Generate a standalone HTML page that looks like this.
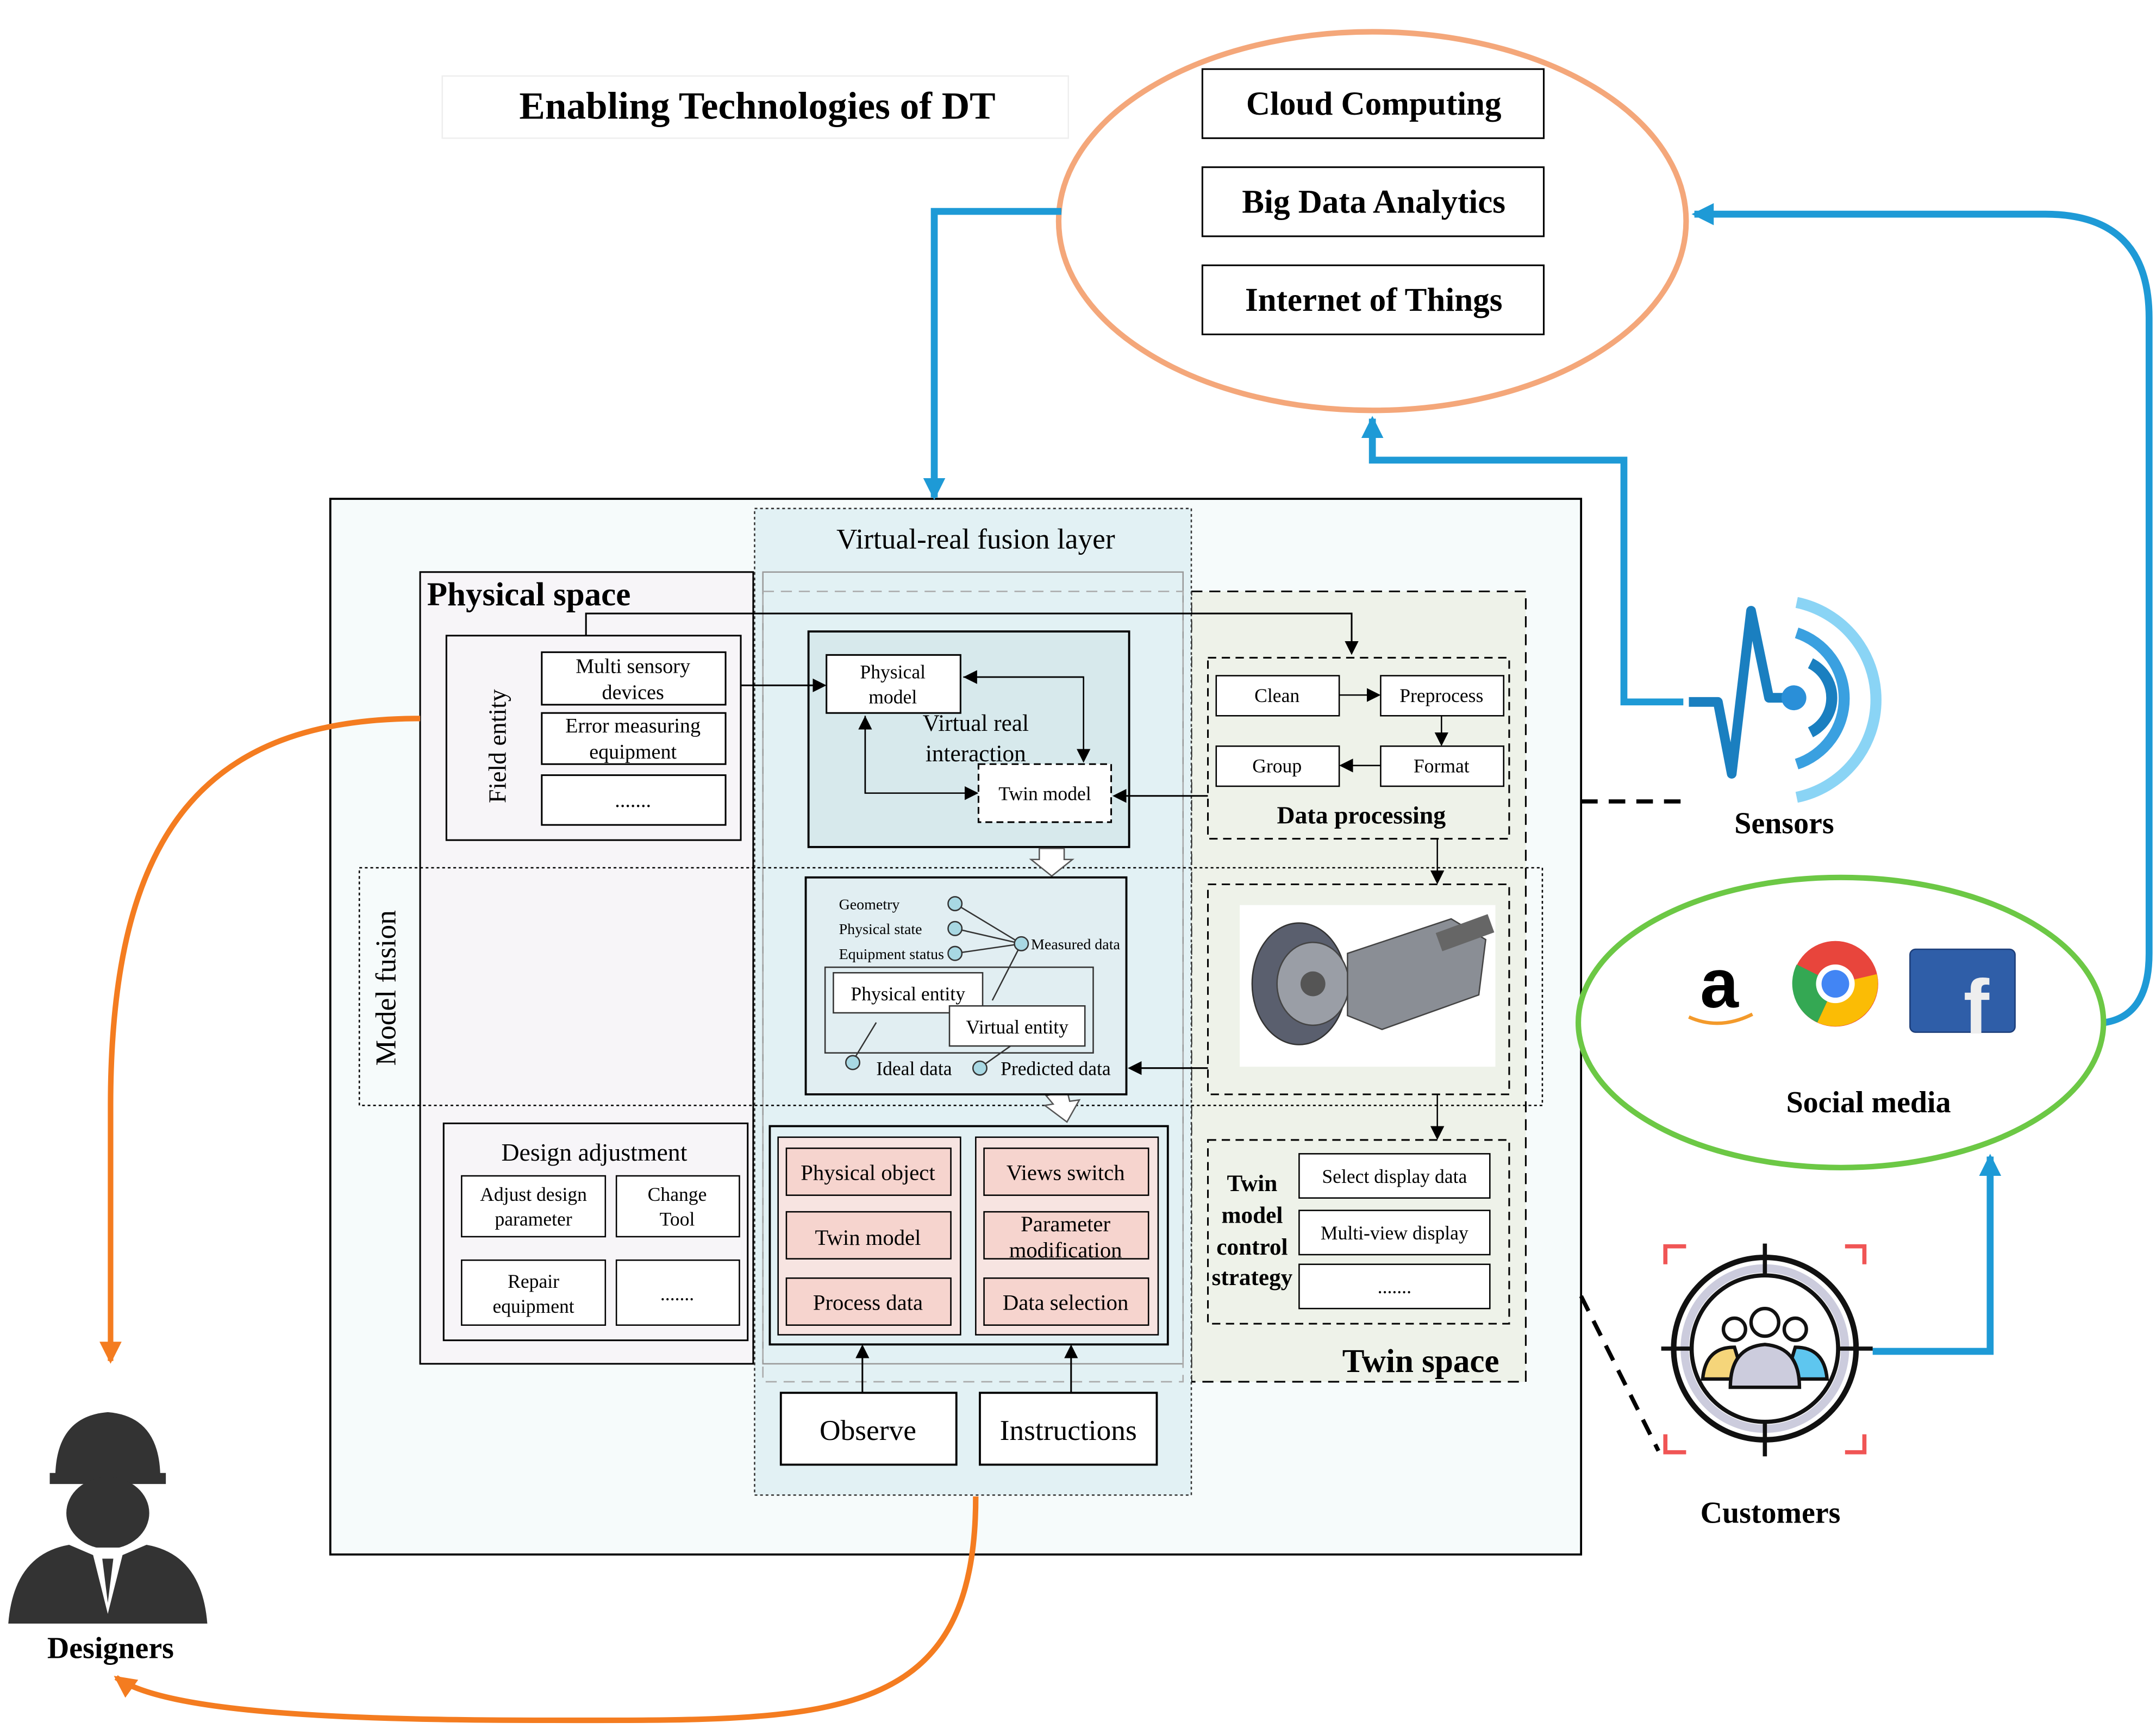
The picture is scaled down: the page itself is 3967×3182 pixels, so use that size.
<!DOCTYPE html>
<html><head><meta charset="utf-8"><style>
html,body{margin:0;padding:0;background:#fff}
svg{display:block}
text{font-family:"Liberation Serif",serif;fill:#000}
</style></head><body>
<svg width="3967" height="3182" viewBox="0 0 1560 1251.3" xmlns="http://www.w3.org/2000/svg">
<defs>
<marker id="ab" markerWidth="10" markerHeight="10" refX="8" refY="5" orient="auto" markerUnits="userSpaceOnUse"><path d="M0,0 L10,5 L0,10 z" fill="#000"/></marker>
<marker id="abl" markerWidth="20" markerHeight="20" refX="14" refY="8" orient="auto" markerUnits="userSpaceOnUse"><path d="M0,0 L16,8 L0,16 z" fill="#1e9ad6"/></marker>
<marker id="aor" markerWidth="20" markerHeight="20" refX="14" refY="8" orient="auto" markerUnits="userSpaceOnUse"><path d="M0,0 L16,8 L0,16 z" fill="#f47c20"/></marker>
</defs>
<rect width="1560" height="1252" fill="#fff"/>

<rect x="320" y="55" width="453" height="45" fill="#fff" stroke="#eee"/>
<text x="548" y="86" font-size="28" font-weight="bold" text-anchor="middle">Enabling Technologies of DT</text>

<ellipse cx="993" cy="160" rx="227" ry="137" fill="#fff" stroke="#f4a77a" stroke-width="4"/>
<g font-size="24" font-weight="bold" text-anchor="middle">
<rect x="870" y="50" width="247" height="50" fill="#fff" stroke="#000" stroke-width="1.2"/><text x="994" y="83">Cloud Computing</text>
<rect x="870" y="121" width="247" height="50" fill="#fff" stroke="#000" stroke-width="1.2"/><text x="994" y="154">Big Data Analytics</text>
<rect x="870" y="192" width="247" height="50" fill="#fff" stroke="#000" stroke-width="1.2"/><text x="994" y="225">Internet of Things</text>
</g>

<rect x="239" y="361" width="905" height="764" fill="#f6fbfb" stroke="#000" stroke-width="1.5"/>
<rect x="304" y="414" width="241" height="573" fill="#f7f5f8" stroke="#000" stroke-width="1.2"/>
<rect x="862" y="428" width="242" height="572" fill="#eef2e9" stroke="#000" stroke-width="1.2" stroke-dasharray="8,5"/>
<rect x="546" y="368" width="316" height="714" fill="#e2f1f4" stroke="#333" stroke-width="1" stroke-dasharray="2,2"/>
<rect x="552" y="414" width="304" height="573" fill="none" stroke="#999" stroke-width="1"/>
<rect x="552" y="428" width="304" height="572" fill="none" stroke="#aaa" stroke-width="1" stroke-dasharray="8,5"/>
<text x="706" y="397" font-size="21" text-anchor="middle">Virtual-real fusion layer</text>
<text x="309" y="438" font-size="24" font-weight="bold">Physical space</text>
<text x="1028" y="993" font-size="24" font-weight="bold" text-anchor="middle">Twin space</text>

<rect x="260" y="628" width="856" height="172" fill="none" stroke="#000" stroke-width="1" stroke-dasharray="2,2"/>
<text transform="translate(286,715) rotate(-90)" font-size="21" text-anchor="middle">Model fusion</text>

<rect x="323" y="460" width="213" height="148" fill="none" stroke="#000" stroke-width="1.2"/>
<text transform="translate(366,540) rotate(-90)" font-size="18" text-anchor="middle">Field entity</text>
<g font-size="15" text-anchor="middle" stroke-width="1.2">
<rect x="392" y="472" width="133" height="38" fill="#fff" stroke="#000"/><text x="458" y="487">Multi sensory</text><text x="458" y="506">devices</text>
<rect x="392" y="516" width="133" height="37" fill="#fff" stroke="#000"/><text x="458" y="530">Error measuring</text><text x="458" y="549">equipment</text>
<rect x="392" y="561" width="133" height="36" fill="#fff" stroke="#000"/><text x="458" y="584">.......</text>
</g>
<polyline points="424,460 424,444 978,444 978,472" fill="none" stroke="#000" stroke-width="1.2" marker-end="url(#ab)"/>

<rect x="585" y="457" width="232" height="156" fill="#d7e9ec" stroke="#000" stroke-width="1.5"/>
<rect x="598" y="474" width="97" height="42" fill="#fff" stroke="#000" stroke-width="1.2"/>
<line x1="536" y1="496" x2="596" y2="496" stroke="#000" stroke-width="1.2" marker-end="url(#ab)"/>
<text x="646" y="491" font-size="14" text-anchor="middle">Physical</text><text x="646" y="509" font-size="14" text-anchor="middle">model</text>
<text x="706" y="529" font-size="17" text-anchor="middle">Virtual real</text><text x="706" y="551" font-size="17" text-anchor="middle">interaction</text>
<rect x="708" y="553" width="96" height="42" fill="#fff" stroke="#000" stroke-width="1.2" stroke-dasharray="5,3"/>
<text x="756" y="579" font-size="14" text-anchor="middle">Twin model</text>
<polyline points="697,490 784,490 784,550" fill="none" stroke="#000" stroke-width="1" marker-end="url(#ab)"/>
<line x1="784" y1="490" x2="699" y2="490" stroke="#000" stroke-width="1" marker-end="url(#ab)"/>
<polyline points="626,518 626,574 706,574" fill="none" stroke="#000" stroke-width="1" marker-end="url(#ab)"/>
<line x1="626" y1="574" x2="626" y2="520" stroke="#000" stroke-width="1" marker-end="url(#ab)"/>
<line x1="874" y1="576" x2="807" y2="576" stroke="#000" stroke-width="1.2" marker-end="url(#ab)"/>

<path d="M752,614 L770,614 L770,622 L776,622 L761,634 L746,622 L752,622 z" fill="#fff" stroke="#555"/>
<path d="M757,793 L772,789 L774,797 L781,796 L772,812 L756,800 L762,799 z" fill="#fff" stroke="#555"/>

<rect x="583" y="635" width="232" height="157" fill="#e1eef2" stroke="#000" stroke-width="1.5"/>
<g font-size="11">
<text x="607" y="658">Geometry</text><text x="607" y="676">Physical state</text><text x="607" y="694">Equipment status</text>
<text x="746" y="687">Measured data</text>
</g>
<g stroke="#333" stroke-width="1">
<line x1="691" y1="654" x2="739" y2="683"/><line x1="691" y1="672" x2="739" y2="683"/><line x1="691" y1="690" x2="739" y2="683"/>
<line x1="739" y1="683" x2="718" y2="724"/><line x1="634" y1="740" x2="617" y2="768"/><line x1="734" y1="755" x2="710" y2="772"/>
</g>
<g fill="#a8d8e3" stroke="#333" stroke-width="1">
<circle cx="691" cy="654" r="5"/><circle cx="691" cy="672" r="5"/><circle cx="691" cy="690" r="5"/><circle cx="739" cy="683" r="5"/>
<circle cx="617" cy="769" r="5"/><circle cx="709" cy="773" r="5"/>
</g>
<rect x="597" y="700" width="194" height="62" fill="none" stroke="#333" stroke-width="1"/>
<rect x="603" y="704" width="108" height="29" fill="#fff" stroke="#333"/><text x="657" y="724" font-size="14" text-anchor="middle">Physical entity</text>
<rect x="687" y="728" width="98" height="29" fill="#fff" stroke="#333"/><text x="736" y="748" font-size="14" text-anchor="middle">Virtual entity</text>
<text x="634" y="778" font-size="14">Ideal data</text><text x="724" y="778" font-size="14">Predicted data</text>
<line x1="874" y1="773" x2="818" y2="773" stroke="#000" stroke-width="1.2" marker-end="url(#ab)"/>

<rect x="874" y="476" width="218" height="131" fill="none" stroke="#000" stroke-width="1.2" stroke-dasharray="6,4"/>
<g font-size="14" text-anchor="middle">
<rect x="880" y="489" width="89" height="29" fill="#fff" stroke="#000"/><text x="924" y="508">Clean</text>
<rect x="999" y="489" width="89" height="29" fill="#fff" stroke="#000"/><text x="1043" y="508">Preprocess</text>
<rect x="880" y="540" width="89" height="29" fill="#fff" stroke="#000"/><text x="924" y="559">Group</text>
<rect x="999" y="540" width="89" height="29" fill="#fff" stroke="#000"/><text x="1043" y="559">Format</text>
</g>
<line x1="969" y1="503" x2="997" y2="503" stroke="#000" marker-end="url(#ab)"/>
<line x1="1043" y1="518" x2="1043" y2="538" stroke="#000" marker-end="url(#ab)"/>
<line x1="999" y1="554" x2="971" y2="554" stroke="#000" marker-end="url(#ab)"/>
<text x="985" y="596" font-size="18" font-weight="bold" text-anchor="middle">Data processing</text>
<line x1="1040" y1="607" x2="1040" y2="638" stroke="#000" marker-end="url(#ab)"/>

<rect x="874" y="640" width="218" height="152" fill="none" stroke="#000" stroke-width="1.2" stroke-dasharray="6,4"/>
<rect x="897" y="655" width="185" height="117" fill="#fff"/>
<ellipse cx="940" cy="712" rx="34" ry="44" fill="#5a5f6e" stroke="#333"/>
<ellipse cx="950" cy="712" rx="26" ry="30" fill="#9a9ea6" stroke="#444"/>
<circle cx="950" cy="712" r="9" fill="#555"/>
<path d="M975,690 L1050,665 L1075,680 L1070,720 L1000,745 L975,735 z" fill="#8a8e95" stroke="#444"/>
<rect x="1040" y="668" width="40" height="14" fill="#666" transform="rotate(-20 1060 675)"/>
<line x1="1040" y1="792" x2="1040" y2="823" stroke="#000" marker-end="url(#ab)"/>

<rect x="874" y="825" width="218" height="133" fill="none" stroke="#000" stroke-width="1.2" stroke-dasharray="6,4"/>
<g font-size="17" font-weight="bold" text-anchor="middle">
<text x="906" y="862">Twin</text><text x="906" y="885">model</text><text x="906" y="908">control</text><text x="906" y="930">strategy</text>
</g>
<g font-size="14" text-anchor="middle">
<rect x="940" y="835" width="138" height="32" fill="#fff" stroke="#000"/><text x="1009" y="856">Select display data</text>
<rect x="940" y="876" width="138" height="32" fill="#fff" stroke="#000"/><text x="1009" y="897">Multi-view display</text>
<rect x="940" y="915" width="138" height="32" fill="#fff" stroke="#000"/><text x="1009" y="936">.......</text>
</g>

<rect x="557" y="815" width="288" height="158" fill="none" stroke="#000" stroke-width="1.5"/>
<rect x="563" y="823" width="132" height="143" fill="#f7e4e1" stroke="#000"/>
<rect x="706" y="823" width="132" height="143" fill="#f7e4e1" stroke="#000"/>
<g font-size="16" text-anchor="middle">
<rect x="569" y="831" width="119" height="34" fill="#f6d4ce" stroke="#000"/><text x="628" y="854">Physical object</text>
<rect x="569" y="877" width="119" height="34" fill="#f6d4ce" stroke="#000"/><text x="628" y="901">Twin model</text>
<rect x="569" y="925" width="119" height="34" fill="#f6d4ce" stroke="#000"/><text x="628" y="948">Process data</text>
<rect x="712" y="831" width="119" height="34" fill="#f6d4ce" stroke="#000"/><text x="771" y="854">Views switch</text>
<rect x="712" y="877" width="119" height="34" fill="#f6d4ce" stroke="#000"/><text x="771" y="891">Parameter</text><text x="771" y="910">modification</text>
<rect x="712" y="925" width="119" height="34" fill="#f6d4ce" stroke="#000"/><text x="771" y="948">Data selection</text>
</g>
<line x1="624" y1="1008" x2="624" y2="975" stroke="#000" stroke-width="1.2" marker-end="url(#ab)"/>
<line x1="775" y1="1008" x2="775" y2="975" stroke="#000" stroke-width="1.2" marker-end="url(#ab)"/>
<rect x="565" y="1008" width="127" height="52" fill="#fff" stroke="#000" stroke-width="1.5"/><text x="628" y="1042" font-size="21" text-anchor="middle">Observe</text>
<rect x="709" y="1008" width="128" height="52" fill="#fff" stroke="#000" stroke-width="1.5"/><text x="773" y="1042" font-size="21" text-anchor="middle">Instructions</text>

<rect x="321" y="813" width="220" height="157" fill="none" stroke="#000" stroke-width="1.2"/>
<text x="430" y="840" font-size="18" text-anchor="middle">Design adjustment</text>
<g font-size="14" text-anchor="middle">
<rect x="334" y="851" width="104" height="44" fill="#fff" stroke="#000"/><text x="386" y="869">Adjust design</text><text x="386" y="887">parameter</text>
<rect x="446" y="851" width="89" height="44" fill="#fff" stroke="#000"/><text x="490" y="869">Change</text><text x="490" y="887">Tool</text>
<rect x="334" y="912" width="104" height="47" fill="#fff" stroke="#000"/><text x="386" y="932">Repair</text><text x="386" y="950">equipment</text>
<rect x="446" y="912" width="89" height="47" fill="#fff" stroke="#000"/><text x="490" y="941">.......</text>
</g>

<polyline points="768,153 676,153 676,360" fill="none" stroke="#1e9ad6" stroke-width="5" marker-end="url(#abl)"/>
<polyline points="1218,508 1175,508 1175,333 993,333 993,303" fill="none" stroke="#1e9ad6" stroke-width="5" marker-end="url(#abl)"/>
<path d="M1523,740 Q1555,735 1555,690 L1555,230 Q1555,155 1480,155 L1226,155" fill="none" stroke="#1e9ad6" stroke-width="5" marker-end="url(#abl)"/>
<polyline points="1355,978 1440,978 1440,837" fill="none" stroke="#1e9ad6" stroke-width="5" marker-end="url(#abl)"/>

<path d="M304,520 C150,520 80,600 80,800 L80,985" fill="none" stroke="#f47c20" stroke-width="4" marker-end="url(#aor)"/>
<path d="M706,1083 C706,1250 600,1245 400,1245 C250,1245 120,1240 84,1214" fill="none" stroke="#f47c20" stroke-width="4" marker-end="url(#aor)"/>

<line x1="1144" y1="580" x2="1218" y2="580" stroke="#000" stroke-width="3" stroke-dasharray="12,8"/>
<line x1="1144" y1="938" x2="1200" y2="1050" stroke="#000" stroke-width="3" stroke-dasharray="12,8"/>

<rect x="0" y="995" width="185" height="212" fill="#fff"/>
<path d="M40,1070 Q40,1025 78,1022 Q116,1025 116,1070 z" fill="#333"/>
<rect x="36" y="1066" width="84" height="8" fill="#333"/>
<ellipse cx="78" cy="1095" rx="30" ry="26" fill="#333"/>
<path d="M6,1175 Q10,1125 50,1118 L78,1130 L106,1118 Q146,1125 150,1175 z" fill="#333"/>
<path d="M66,1120 L78,1168 L90,1120 z" fill="#fff"/><path d="M74,1128 L78,1160 L82,1128 z" fill="#333"/>
<text x="80" y="1200" font-size="22" font-weight="bold" text-anchor="middle">Designers</text>

<polyline points="1222,508 1243,508 1253,560 1267,442 1280,505 1298,505" fill="none" stroke="#1a7fc0" stroke-width="7" stroke-linejoin="round"/>
<circle cx="1298" cy="505" r="9" fill="#2a8fd8"/>
<path d="M1310,480 A28,28 0 0 1 1310,530" fill="none" stroke="#1a7fc0" stroke-width="8"/>
<path d="M1300,458 A50,50 0 0 1 1300,553" fill="none" stroke="#3aa0e0" stroke-width="8"/>
<path d="M1300,436 A72,72 0 0 1 1300,577" fill="none" stroke="#8ad4f5" stroke-width="8"/>
<text x="1291" y="603" font-size="22" font-weight="bold" text-anchor="middle">Sensors</text>

<ellipse cx="1332" cy="740" rx="190" ry="105" fill="#fff" stroke="#6cc845" stroke-width="4"/>
<text x="1244" y="729" font-size="50" font-weight="bold" text-anchor="middle" style="font-family:'Liberation Sans',sans-serif">a</text>
<path d="M1222,736 Q1244,746 1268,734" fill="none" stroke="#f39a2b" stroke-width="2.5"/>
<circle cx="1328" cy="712" r="31" fill="#e8453c"/>
<path d="M1328,712 L1300,698 A31,31 0 0 0 1315,740 z" fill="#34a853"/>
<path d="M1328,712 L1358,705 A31,31 0 0 1 1315,740 z" fill="#fbbc05"/>
<circle cx="1328" cy="712" r="14" fill="#fff"/><circle cx="1328" cy="712" r="10" fill="#4285f4"/>
<rect x="1382" y="687" width="76" height="60" rx="4" fill="#2f5ea8" stroke="#1d3e7a"/>
<text x="1430" y="748" font-size="56" font-weight="bold" text-anchor="middle" style="font-family:'Liberation Sans',sans-serif;fill:#eee">f</text>
<text x="1352" y="805" font-size="22" font-weight="bold" text-anchor="middle">Social media</text>

<g stroke="#f05555" stroke-width="3" fill="none">
<polyline points="1205,915 1205,902 1220,902"/><polyline points="1335,902 1349,902 1349,915"/>
<polyline points="1205,1038 1205,1051 1220,1051"/><polyline points="1335,1051 1349,1051 1349,1038"/>
</g>
<circle cx="1277" cy="976" r="66" fill="none" stroke="#111" stroke-width="4"/>
<circle cx="1277" cy="976" r="58" fill="none" stroke="#ccd" stroke-width="6"/>
<circle cx="1277" cy="976" r="53" fill="none" stroke="#111" stroke-width="3"/>
<g stroke="#111" stroke-width="3"><line x1="1277" y1="900" x2="1277" y2="922"/><line x1="1277" y1="1030" x2="1277" y2="1054"/><line x1="1202" y1="976" x2="1225" y2="976"/><line x1="1330" y1="976" x2="1355" y2="976"/></g>
<g stroke="#111" stroke-width="2.5">
<path d="M1232,998 Q1234,975 1255,975 L1262,998 z" fill="#f5d57a"/>
<path d="M1322,998 Q1320,975 1299,975 L1292,998 z" fill="#5ec6ef"/>
<circle cx="1255" cy="962" r="8" fill="#fff"/><circle cx="1299" cy="962" r="8" fill="#fff"/>
<path d="M1252,1004 Q1252,975 1277,973 Q1302,975 1302,1004 z" fill="#ccd"/>
<circle cx="1277" cy="957" r="10" fill="#fff"/>
</g>
<text x="1281" y="1102" font-size="22" font-weight="bold" text-anchor="middle">Customers</text>
</svg>
</body></html>
